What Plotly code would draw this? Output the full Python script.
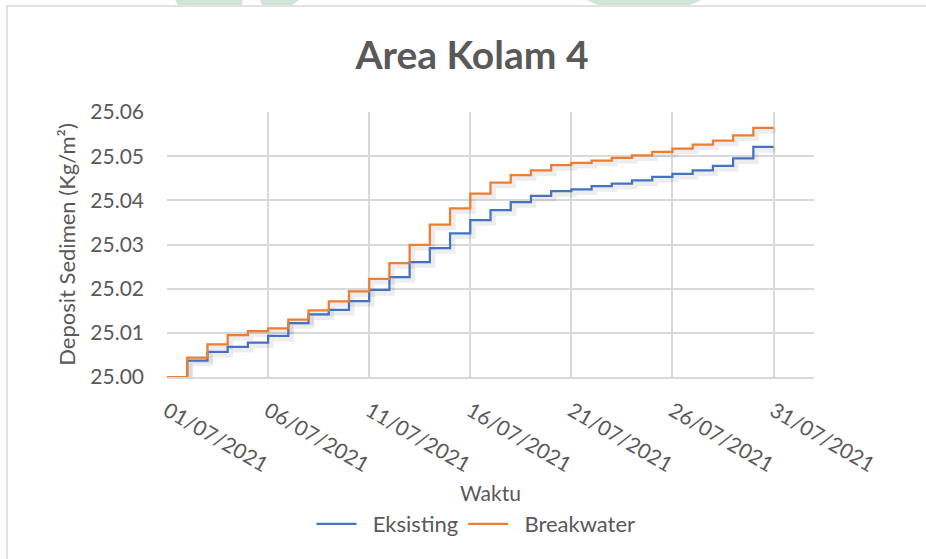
import pandas as pd
import plotly.graph_objects as go

# Daily sediment deposit (Kg/m²), July 2021
tanggal = pd.date_range("2021-07-01", "2021-07-31", freq="D")
eksisting = [
    25.0000, 25.0037, 25.0057, 25.0068, 25.0078, 25.0093, 25.0122, 25.0142,
    25.0152, 25.0172, 25.0197, 25.0226, 25.0260, 25.0292, 25.0325, 25.0355,
    25.0378, 25.0396, 25.0410, 25.0421, 25.0425, 25.0432, 25.0438, 25.0445,
    25.0453, 25.0460, 25.0468, 25.0478, 25.0495, 25.0521, 25.0521,
]
breakwater = [
    25.0000, 25.0044, 25.0074, 25.0095, 25.0104, 25.0110, 25.0130, 25.0151,
    25.0171, 25.0194, 25.0222, 25.0258, 25.0299, 25.0345, 25.0382, 25.0415,
    25.0440, 25.0457, 25.0468, 25.0480, 25.0485, 25.0490, 25.0496, 25.0502,
    25.0510, 25.0517, 25.0526, 25.0535, 25.0547, 25.0564, 25.0564,
]
seri = [("Eksisting", eksisting, "#4472C4"), ("Breakwater", breakwater, "#ED7D31")]

FONT = "Lato, Carlito, Calibri, sans-serif"
TXT = "#595959"
NBSP = "\u00a0"

# plot-area geometry in pixels, used to place page decorations in paper units
L, R, T, B = 167, 814, 112, 377


def px(x):
    return (x - L) / (R - L)


def py(y):
    return (B - y) / (B - T)


fig = go.Figure()

# soft drop shadow under each step line
shift = pd.Timedelta(hours=3)
for nama, nilai, warna in seri:
    fig.add_trace(go.Scatter(
        x=tanggal + shift, y=[v - 0.0006 for v in nilai],
        mode="lines", line=dict(color="rgba(0,0,0,0.07)", width=6, shape="hv"),
        hoverinfo="skip", showlegend=False,
    ))

for nama, nilai, warna in seri:
    fig.add_trace(go.Scatter(
        x=tanggal, y=nilai, name=NBSP * 2 + nama, mode="lines",
        line=dict(color=warna, width=2.25, shape="hv"),
    ))

hijau = "#cfe5d8"
fig.update_layout(
    width=926, height=559,
    margin=dict(l=L, r=926 - R, t=T, b=559 - B),
    paper_bgcolor="white", plot_bgcolor="white",
    font=dict(family=FONT, color=TXT, size=21),
    title=dict(text="<b>Area Kolam 4</b>", xref="container", x=472 / 926,
               xanchor="center", y=1 - 55 / 559, yanchor="middle",
               font=dict(family=FONT, size=39, color=TXT)),
    showlegend=True,
    legend=dict(orientation="h", x=px(476), xanchor="center",
                y=py(524), yanchor="middle",
                font=dict(family=FONT, size=22, color=TXT),
                itemwidth=40, tracegroupgap=0),
    shapes=[
        # chart frame
        dict(type="rect", xref="paper", yref="paper",
             x0=px(7), x1=px(980), y0=py(600), y1=py(6),
             line=dict(color="#d9d9d9", width=1.5), fillcolor="rgba(0,0,0,0)",
             layer="below"),
        # faint green emblem edges above the frame
        dict(type="path", xref="paper", yref="paper",
             path=f"M {px(174)},{py(-2)} L {px(243)},{py(-2)} L {px(242)},{py(5)} L {px(178)},{py(5)} Z",
             fillcolor=hijau, line=dict(width=0), layer="below"),
        dict(type="path", xref="paper", yref="paper",
             path=f"M {px(259)},{py(-2)} L {px(302)},{py(-2)} L {px(292)},{py(5)} L {px(262)},{py(5)} Z",
             fillcolor=hijau, line=dict(width=0), layer="below"),
        dict(type="path", xref="paper", yref="paper",
             path=f"M {px(582)},{py(-2)} L {px(706)},{py(-2)} L {px(690)},{py(5)} L {px(598)},{py(5)} Z",
             fillcolor=hijau, line=dict(width=0), layer="below"),
    ],
)

fig.update_xaxes(
    type="date",
    range=["2021-07-01", "2021-08-02"],
    tick0="2021-07-01", dtick=5 * 86400000,
    tickformat="%d/%m/%Y", tickangle=30,
    showgrid=True, gridcolor="#d9d9d9", gridwidth=1.5,
    showline=True, linecolor="#d9d9d9", linewidth=1.5,
    ticks="", ticklabelstandoff=12,
    tickfont=dict(family=FONT, size=21, color=TXT),
    title=dict(text="Waktu", standoff=11,
               font=dict(family=FONT, size=21, color=TXT)),
    zeroline=False,
)
fig.update_yaxes(
    range=[25.0, 25.06], dtick=0.01, tickformat=".2f",
    showgrid=True, gridcolor="#d9d9d9", gridwidth=1.5,
    showline=False, ticks="", ticklabelstandoff=22,
    tickfont=dict(family=FONT, size=21, color=TXT),
    title=dict(text="Deposit Sedimen (Kg/m²)", standoff=8,
               font=dict(family=FONT, size=22, color=TXT)),
    zeroline=False,
)

fig.write_html("out.html")
